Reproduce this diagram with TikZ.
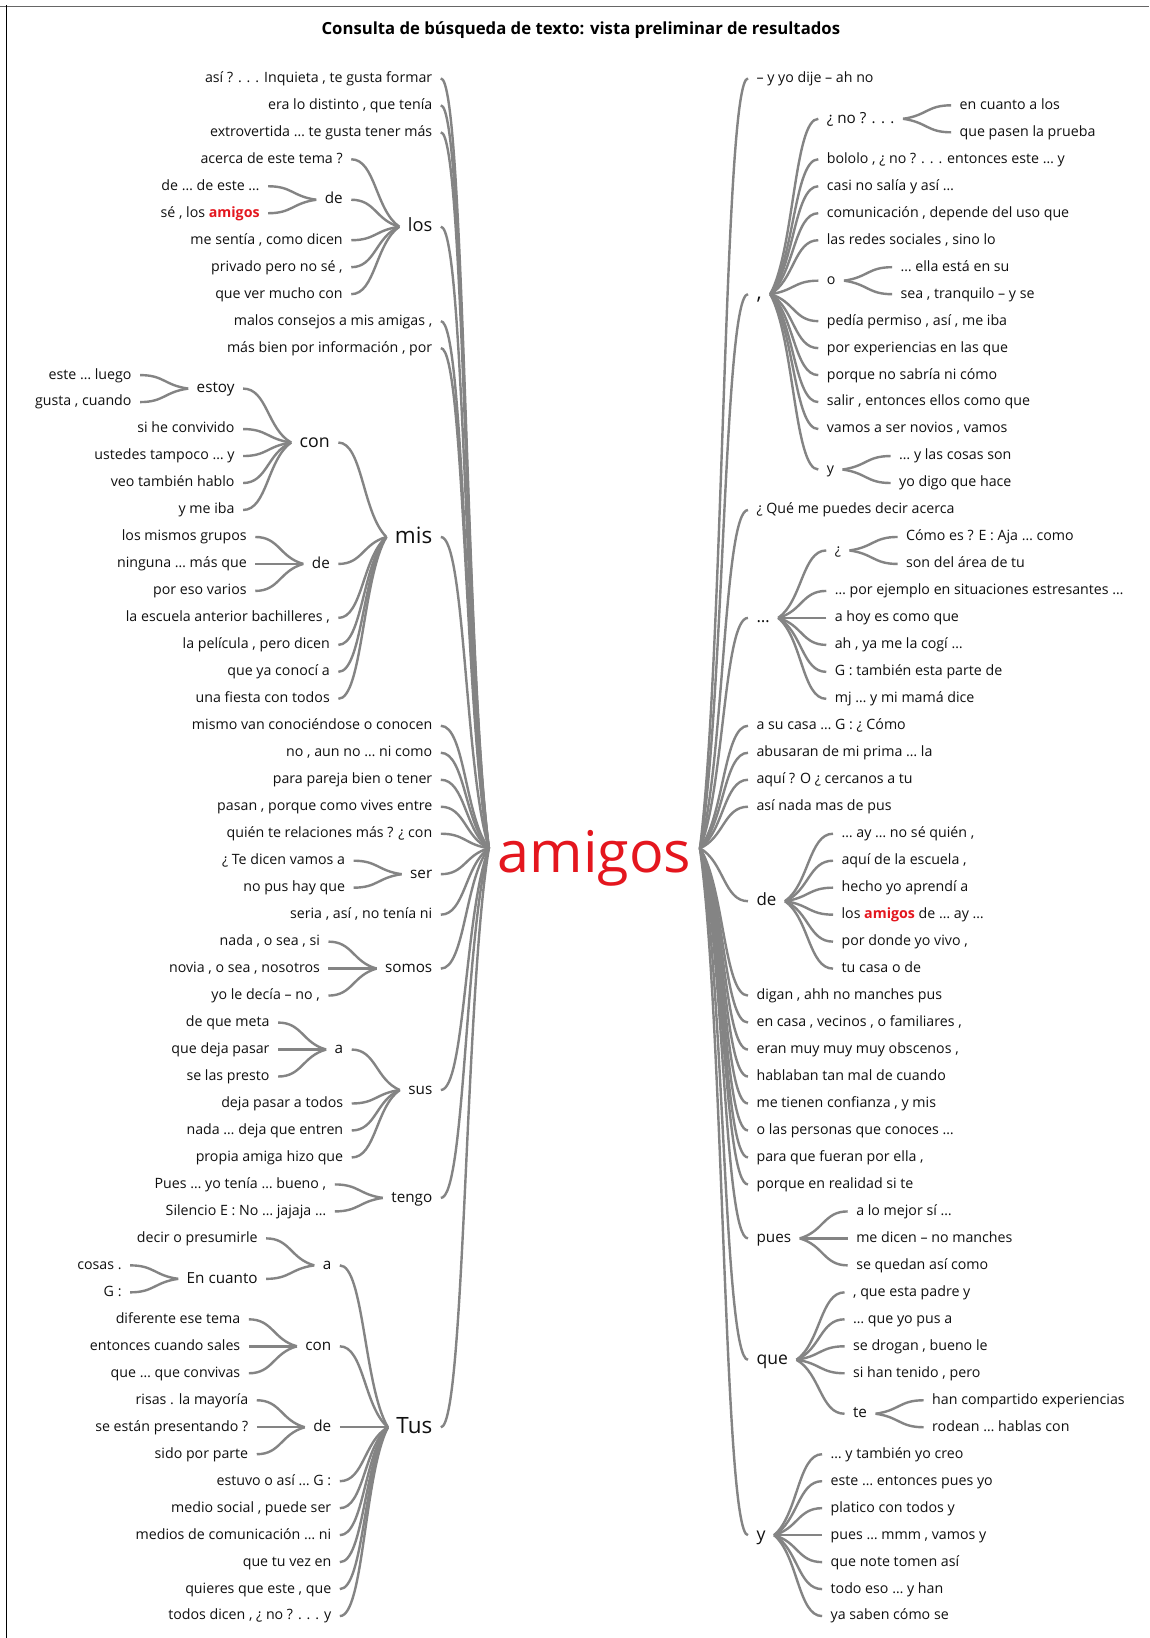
\documentclass[tikz,border=0pt]{standalone}
\usepackage{fontspec}
\setmainfont{Open Sans}
\usetikzlibrary{calc}

\definecolor{linegray}{RGB}{132,132,132}
\definecolor{txt}{RGB}{16,16,16}
\definecolor{amired}{RGB}{228,22,30}

% vertical position of text row k
\newcommand\rowy[1]{(75+25.8246*(#1))}
% highlighted keyword inside a context line
\newcommand\amig{{\bfseries\color{amired}amigos}}

% branch curves: child node -> parent point
\newcommand\leftlink[2]{\draw[link] let \p1=(#1.east), \p2=(#2) in (\p1) .. controls ({(\x1+\x2)/2},\y1) and ({(\x1+\x2)/2},{\y1+0.75*(\y2-\y1)}) .. (\p2);}
\newcommand\rightlink[2]{\draw[link] let \p1=(#1.west), \p2=(#2) in (\p1) .. controls ({(\x1+\x2)/2},\y1) and ({(\x1+\x2)/2},{\y1+0.75*(\y2-\y1)}) .. (\p2);}
% word nodes: style, name, parent point, row, text
\newcommand\leftnode[5]{\path let \p1=(#3) in node[#1,anchor=east] (#2) at (\x1-46pt,{\rowy{#4}}) {#5};\leftlink{#2}{#3}}
\newcommand\rightnode[5]{\path let \p1=(#3) in node[#1,anchor=west] (#2) at (\x1+46pt,{\rowy{#4}}) {#5};\rightlink{#2}{#3}}

\tikzset{
  fs/.style={font=\fontsize{#1pt}{#1pt}\selectfont, text height={0.8*#1pt}, text depth={0.25*#1pt}, inner xsep=8pt, inner ysep=0pt, text=txt},
  leaf/.style={fs=13.6},
  s1/.style={fs=14.6},
  big/.style={fs=21.5},
  link/.style={draw=linegray, line width=2.3pt},
}

\begin{document}
\begin{tikzpicture}[x=1pt,y=-1pt]
\fill[white] (0,0) rectangle (1100,1568);
\useasboundingbox (0,0) rectangle (1100,1568);

% frame
\draw[black!60, line width=0.8pt] (0,5.7) -- (1100,5.7);
\draw[black, line width=1.4pt] (6.3,5) -- (6.3,1568);

% title
\node[font=\fontsize{16pt}{17pt}\selectfont\bfseries, anchor=base, text=black] (title) at (556,33) {Consulta de búsqueda de texto: vista preliminar de resultados};

% keyword
\node[font=\fontsize{55pt}{55pt}\selectfont, text=amired, anchor=base, inner sep=0pt] (amigos) at (569,835) {amigos};
\coordinate (rootL) at (468,812);
\coordinate (rootR) at (670,812);

% ---------------- preceding context ----------------
\leftnode{leaf}{l0}{rootL}{0}{así ? . . . Inquieta , te gusta formar}
\leftnode{leaf}{l1}{rootL}{1}{era lo distinto , que tenía}
\leftnode{leaf}{l2}{rootL}{2}{extrovertida … te gusta tener más}
\leftnode{fs=17.5}{lLos}{rootL}{5.5}{los}
\leftnode{leaf}{l3}{lLos.west}{3}{acerca de este tema ?}
\leftnode{s1}{lDeA}{lLos.west}{4.5}{de}
\leftnode{leaf}{l4}{lDeA.west}{4}{de … de este …}
\leftnode{leaf}{l5}{lDeA.west}{5}{sé , los \amig}
\leftnode{leaf}{l6}{lLos.west}{6}{me sentía , como dicen}
\leftnode{leaf}{l7}{lLos.west}{7}{privado pero no sé ,}
\leftnode{leaf}{l8}{lLos.west}{8}{que ver mucho con}
\leftnode{leaf}{l9}{rootL}{9}{malos consejos a mis amigas ,}
\leftnode{leaf}{l10}{rootL}{10}{más bien por información , por}
\leftnode{big}{lMis}{rootL}{17}{mis}
\leftnode{fs=17}{lConA}{lMis.west}{13.5}{con}
\leftnode{s1}{lEstoy}{lConA.west}{11.5}{estoy}
\leftnode{leaf}{l11}{lEstoy.west}{11}{este … luego}
\leftnode{leaf}{l12}{lEstoy.west}{12}{gusta , cuando}
\leftnode{leaf}{l13}{lConA.west}{13}{si he convivido}
\leftnode{leaf}{l14}{lConA.west}{14}{ustedes tampoco … y}
\leftnode{leaf}{l15}{lConA.west}{15}{veo también hablo}
\leftnode{leaf}{l16}{lConA.west}{16}{y me iba}
\leftnode{s1}{lDeB}{lMis.west}{18}{de}
\leftnode{leaf}{l17}{lDeB.west}{17}{los mismos grupos}
\leftnode{leaf}{l18}{lDeB.west}{18}{ninguna … más que}
\leftnode{leaf}{l19}{lDeB.west}{19}{por eso varios}
\leftnode{leaf}{l20}{lMis.west}{20}{la escuela anterior bachilleres ,}
\leftnode{leaf}{l21}{lMis.west}{21}{la película , pero dicen}
\leftnode{leaf}{l22}{lMis.west}{22}{que ya conocí a}
\leftnode{leaf}{l23}{lMis.west}{23}{una fiesta con todos}
\leftnode{leaf}{l24}{rootL}{24}{mismo van conociéndose o conocen}
\leftnode{leaf}{l25}{rootL}{25}{no , aun no … ni como}
\leftnode{leaf}{l26}{rootL}{26}{para pareja bien o tener}
\leftnode{leaf}{l27}{rootL}{27}{pasan , porque como vives entre}
\leftnode{leaf}{l28}{rootL}{28}{quién te relaciones más ? ¿ con}
\leftnode{s1}{lSer}{rootL}{29.5}{ser}
\leftnode{leaf}{l29}{lSer.west}{29}{¿ Te dicen vamos a}
\leftnode{leaf}{l30}{lSer.west}{30}{no pus hay que}
\leftnode{leaf}{l31}{rootL}{31}{seria , así , no tenía ni}
\leftnode{s1}{lSomos}{rootL}{33}{somos}
\leftnode{leaf}{l32}{lSomos.west}{32}{nada , o sea , si}
\leftnode{leaf}{l33}{lSomos.west}{33}{novia , o sea , nosotros}
\leftnode{leaf}{l34}{lSomos.west}{34}{yo le decía – no ,}
\leftnode{s1}{lSus}{rootL}{37.5}{sus}
\leftnode{s1}{lAA}{lSus.west}{36}{a}
\leftnode{leaf}{l35}{lAA.west}{35}{de que meta}
\leftnode{leaf}{l36}{lAA.west}{36}{que deja pasar}
\leftnode{leaf}{l37}{lAA.west}{37}{se las presto}
\leftnode{leaf}{l38}{lSus.west}{38}{deja pasar a todos}
\leftnode{leaf}{l39}{lSus.west}{39}{nada … deja que entren}
\leftnode{leaf}{l40}{lSus.west}{40}{propia amiga hizo que}
\leftnode{s1}{lTengo}{rootL}{41.5}{tengo}
\leftnode{leaf}{l41}{lTengo.west}{41}{Pues … yo tenía … bueno ,}
\leftnode{leaf}{l42}{lTengo.west}{42}{Silencio E : No … jajaja …}
\leftnode{big}{lTus}{rootL}{50}{Tus}
\leftnode{s1}{lAB}{lTus.west}{44}{a}
\leftnode{leaf}{l43}{lAB.west}{43}{decir o presumirle}
\leftnode{s1}{lEn}{lAB.west}{44.5}{En cuanto}
\leftnode{leaf}{l44}{lEn.west}{44}{cosas .}
\leftnode{leaf}{l45}{lEn.west}{45}{G :}
\leftnode{s1}{lConB}{lTus.west}{47}{con}
\leftnode{leaf}{l46}{lConB.west}{46}{diferente ese tema}
\leftnode{leaf}{l47}{lConB.west}{47}{entonces cuando sales}
\leftnode{leaf}{l48}{lConB.west}{48}{que … que convivas}
\leftnode{s1}{lDeC}{lTus.west}{50}{de}
\leftnode{leaf}{l49}{lDeC.west}{49}{risas . la mayoría}
\leftnode{leaf}{l50}{lDeC.west}{50}{se están presentando ?}
\leftnode{leaf}{l51}{lDeC.west}{51}{sido por parte}
\leftnode{leaf}{l52}{lTus.west}{52}{estuvo o así … G :}
\leftnode{leaf}{l53}{lTus.west}{53}{medio social , puede ser}
\leftnode{leaf}{l54}{lTus.west}{54}{medios de comunicación … ni}
\leftnode{leaf}{l55}{lTus.west}{55}{que tu vez en}
\leftnode{leaf}{l56}{lTus.west}{56}{quieres que este , que}
\leftnode{leaf}{l57}{lTus.west}{57}{todos dicen , ¿ no ? . . . y}

% ---------------- following context ----------------
\rightnode{leaf}{r0}{rootR}{0}{– y yo dije – ah no}
\rightnode{fs=20}{rComma}{rootR}{8}{,}
\rightnode{s1}{rNo}{rComma.east}{1.5}{¿ no ? . . .}
\rightnode{leaf}{r1}{rNo.east}{1}{en cuanto a los}
\rightnode{leaf}{r2}{rNo.east}{2}{que pasen la prueba}
\rightnode{leaf}{r3}{rComma.east}{3}{bololo , ¿ no ? . . . entonces este … y}
\rightnode{leaf}{r4}{rComma.east}{4}{casi no salía y así …}
\rightnode{leaf}{r5}{rComma.east}{5}{comunicación , depende del uso que}
\rightnode{leaf}{r6}{rComma.east}{6}{las redes sociales , sino lo}
\rightnode{leaf}{rO}{rComma.east}{7.5}{o}
\rightnode{leaf}{r7}{rO.east}{7}{… ella está en su}
\rightnode{leaf}{r8}{rO.east}{8}{sea , tranquilo – y se}
\rightnode{leaf}{r9}{rComma.east}{9}{pedía permiso , así , me iba}
\rightnode{leaf}{r10}{rComma.east}{10}{por experiencias en las que}
\rightnode{leaf}{r11}{rComma.east}{11}{porque no sabría ni cómo}
\rightnode{leaf}{r12}{rComma.east}{12}{salir , entonces ellos como que}
\rightnode{leaf}{r13}{rComma.east}{13}{vamos a ser novios , vamos}
\rightnode{leaf}{rYA}{rComma.east}{14.5}{y}
\rightnode{leaf}{r14}{rYA.east}{14}{… y las cosas son}
\rightnode{leaf}{r15}{rYA.east}{15}{yo digo que hace}
\rightnode{leaf}{r16}{rootR}{16}{¿ Qué me puedes decir acerca}
\rightnode{fs=16}{rDots}{rootR}{20}{…}
\rightnode{leaf}{rQ}{rDots.east}{17.5}{¿}
\rightnode{leaf}{r17}{rQ.east}{17}{Cómo es ? E : Aja … como}
\rightnode{leaf}{r18}{rQ.east}{18}{son del área de tu}
\rightnode{leaf}{r19}{rDots.east}{19}{… por ejemplo en situaciones estresantes …}
\rightnode{leaf}{r20}{rDots.east}{20}{a hoy es como que}
\rightnode{leaf}{r21}{rDots.east}{21}{ah , ya me la cogí …}
\rightnode{leaf}{r22}{rDots.east}{22}{G : también esta parte de}
\rightnode{leaf}{r23}{rDots.east}{23}{mj … y mi mamá dice}
\rightnode{leaf}{r24}{rootR}{24}{a su casa … G : ¿ Cómo}
\rightnode{leaf}{r25}{rootR}{25}{abusaran de mi prima … la}
\rightnode{leaf}{r26}{rootR}{26}{aquí ? O ¿ cercanos a tu}
\rightnode{leaf}{r27}{rootR}{27}{así nada mas de pus}
\rightnode{fs=16.2}{rDe}{rootR}{30.5}{de}
\rightnode{leaf}{r28}{rDe.east}{28}{… ay … no sé quién ,}
\rightnode{leaf}{r29}{rDe.east}{29}{aquí de la escuela ,}
\rightnode{leaf}{r30}{rDe.east}{30}{hecho yo aprendí a}
\rightnode{leaf}{r31}{rDe.east}{31}{los \amig{} de … ay …}
\rightnode{leaf}{r32}{rDe.east}{32}{por donde yo vivo ,}
\rightnode{leaf}{r33}{rDe.east}{33}{tu casa o de}
\rightnode{leaf}{r34}{rootR}{34}{digan , ahh no manches pus}
\rightnode{leaf}{r35}{rootR}{35}{en casa , vecinos , o familiares ,}
\rightnode{leaf}{r36}{rootR}{36}{eran muy muy muy obscenos ,}
\rightnode{leaf}{r37}{rootR}{37}{hablaban tan mal de cuando}
\rightnode{leaf}{r38}{rootR}{38}{me tienen confianza , y mis}
\rightnode{leaf}{r39}{rootR}{39}{o las personas que conoces …}
\rightnode{leaf}{r40}{rootR}{40}{para que fueran por ella ,}
\rightnode{leaf}{r41}{rootR}{41}{porque en realidad si te}
\rightnode{s1}{rPues}{rootR}{43}{pues}
\rightnode{leaf}{r42}{rPues.east}{42}{a lo mejor sí …}
\rightnode{leaf}{r43}{rPues.east}{43}{me dicen – no manches}
\rightnode{leaf}{r44}{rPues.east}{44}{se quedan así como}
\rightnode{fs=16.8}{rQue}{rootR}{47.5}{que}
\rightnode{leaf}{r45}{rQue.east}{45}{, que esta padre y}
\rightnode{leaf}{r46}{rQue.east}{46}{… que yo pus a}
\rightnode{leaf}{r47}{rQue.east}{47}{se drogan , bueno le}
\rightnode{leaf}{r48}{rQue.east}{48}{si han tenido , pero}
\rightnode{s1}{rTe}{rQue.east}{49.5}{te}
\rightnode{leaf}{r49}{rTe.east}{49}{han compartido experiencias}
\rightnode{leaf}{r50}{rTe.east}{50}{rodean … hablas con}
\rightnode{fs=17}{rYB}{rootR}{54}{y}
\rightnode{leaf}{r51}{rYB.east}{51}{… y también yo creo}
\rightnode{leaf}{r52}{rYB.east}{52}{este … entonces pues yo}
\rightnode{leaf}{r53}{rYB.east}{53}{platico con todos y}
\rightnode{leaf}{r54}{rYB.east}{54}{pues … mmm , vamos y}
\rightnode{leaf}{r55}{rYB.east}{55}{que note tomen así}
\rightnode{leaf}{r56}{rYB.east}{56}{todo eso … y han}
\rightnode{leaf}{r57}{rYB.east}{57}{ya saben cómo se}
\end{tikzpicture}
\end{document}
